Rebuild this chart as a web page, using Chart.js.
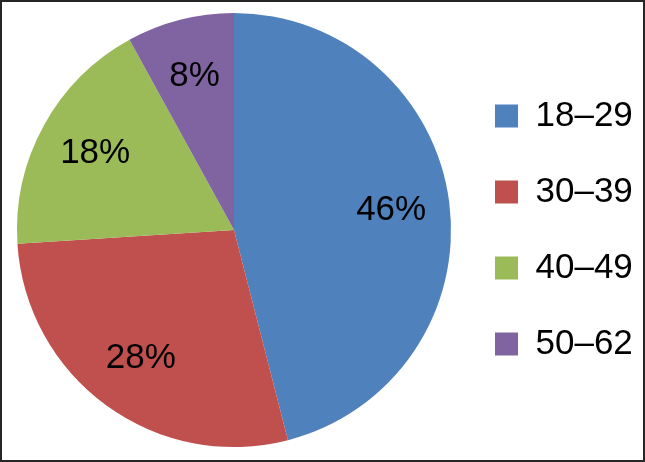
<!DOCTYPE html>
<html>
<head>
<meta charset="utf-8">
<script src="https://cdn.jsdelivr.net/npm/chart.js@4/dist/chart.umd.min.js"></script>
<style>
  body { margin: 0; background: #fff; }
  #wrap { width: 645px; height: 462px; box-sizing: border-box; border: 2px solid #262626; }
</style>
</head>
<body>
<div id="wrap"><canvas id="myChart" width="641" height="458"></canvas></div>
<script>
const ageGroups = ["18–29", "30–39", "40–49", "50–62"];
const shares = [46, 28, 18, 8];
const sliceColors = ['#4F81BD', '#C0504D', '#9BBB59', '#8064A2'];

const FONT = '"Liberation Sans", Arial, sans-serif';
const LEGEND_WIDTH = 183;

// draws "46%" etc inside each slice
const sliceLabels = {
    id: 'sliceLabels',
    afterDatasetsDraw(chart) {
        const ctx = chart.ctx;
        const meta = chart.getDatasetMeta(0);
        ctx.save();
        ctx.font = '35px ' + FONT;
        ctx.fillStyle = '#000';
        ctx.textAlign = 'center';
        ctx.textBaseline = 'middle';
        meta.data.forEach((arc, i) => {
            const mid = (arc.startAngle + arc.endAngle) / 2;
            const r = arc.outerRadius * 0.73;
            ctx.fillText(shares[i] + '%', arc.x + Math.cos(mid) * r, arc.y + Math.sin(mid) * r);
        });
        ctx.restore();
    }
};

// legend padding is big for the row spacing, so pin its width
const legendWidth = {
    id: 'legendWidth',
    beforeLayout(chart) {
        const lg = chart.legend;
        if (lg && !lg._widthPatched) {
            const fit = lg.fit;
            lg.fit = function() {
                fit.call(this);
                this.width = LEGEND_WIDTH;
            };
            lg._widthPatched = true;
        }
    }
};

new Chart(document.getElementById('myChart').getContext('2d'), {
    type: 'pie',
    data: {
        labels: ageGroups,
        datasets: [{
            data: shares,
            backgroundColor: sliceColors,
            borderWidth: 0
        }]
    },
    options: {
        responsive: false,
        animation: false,
        layout: { padding: { top: 11, bottom: 13, left: 12, right: 6 } },
        plugins: {
            tooltip: { enabled: false },
            legend: {
                position: 'right',
                labels: {
                    color: '#000',
                    font: { family: FONT, size: 35 },
                    boxWidth: 23,
                    boxHeight: 23,
                    padding: 41
                }
            }
        }
    },
    plugins: [sliceLabels, legendWidth]
});
</script>
</body>
</html>
